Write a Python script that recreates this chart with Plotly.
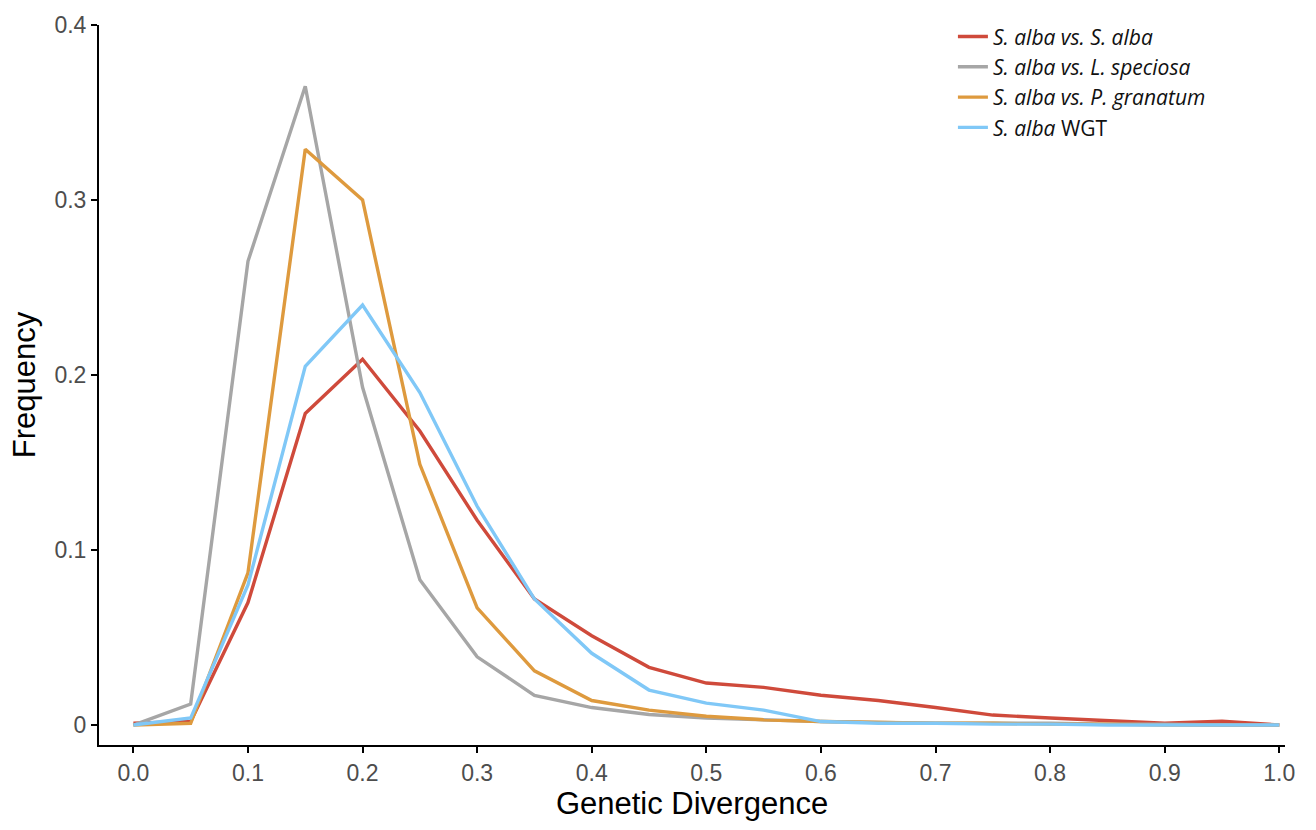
import plotly.graph_objects as go

divergence = [0.0, 0.05, 0.1, 0.15, 0.2, 0.25, 0.3, 0.35, 0.4, 0.45, 0.5,
              0.55, 0.6, 0.65, 0.7, 0.75, 0.8, 0.85, 0.9, 0.95, 1.0]

alba_alba = [0.001, 0.002, 0.070, 0.178, 0.209, 0.168, 0.117, 0.072, 0.051, 0.033, 0.024,
             0.0215, 0.017, 0.014, 0.010, 0.0057, 0.004, 0.0023, 0.001, 0.0022, 0.0]
alba_speciosa = [0.0, 0.012, 0.265, 0.365, 0.193, 0.083, 0.039, 0.017, 0.010, 0.006, 0.004,
                 0.003, 0.002, 0.0015, 0.001, 0.001, 0.001, 0.0005, 0.0005, 0.0, 0.0]
alba_granatum = [0.0, 0.001, 0.087, 0.329, 0.300, 0.149, 0.067, 0.031, 0.014, 0.0085, 0.005,
                 0.003, 0.002, 0.0015, 0.001, 0.001, 0.0005, 0.0005, 0.0, 0.0, 0.0]
alba_wgt = [0.0, 0.004, 0.080, 0.205, 0.240, 0.190, 0.125, 0.072, 0.041, 0.020, 0.0125,
            0.0085, 0.002, 0.001, 0.001, 0.0005, 0.0005, 0.0, 0.0, 0.0, 0.0]

series_names = ["<i>S. alba vs. S. alba</i>", "<i>S. alba vs. L. speciosa</i>",
                "<i>S. alba vs. P. granatum</i>", "<i>S. alba</i> WGT"]
series_values = [alba_alba, alba_speciosa, alba_granatum, alba_wgt]
series_colors = ["#CF4A3B", "#A6A6A6", "#DE9A3E", "#80C8F7"]

x_ticks = [0.0, 0.1, 0.2, 0.3, 0.4, 0.5, 0.6, 0.7, 0.8, 0.9, 1.0]
x_tick_labels = ["0.0", "0.1", "0.2", "0.3", "0.4", "0.5", "0.6", "0.7", "0.8", "0.9", "1.0"]
y_ticks = [0, 0.1, 0.2, 0.3, 0.4]
y_tick_labels = ["0", "0.1", "0.2", "0.3", "0.4"]

fig = go.Figure()
for name, vals, col in zip(series_names, series_values, series_colors):
    fig.add_trace(go.Scatter(x=divergence, y=vals, mode="lines", name=name,
                             line=dict(color=col, width=3.4)))

axis_font = dict(family="Liberation Sans, Arial, sans-serif", size=23, color="#4D4D4D")
title_font = dict(family="Liberation Sans, Arial, sans-serif", size=31, color="black")
fig.update_layout(
    width=1316, height=830,
    paper_bgcolor="white", plot_bgcolor="white",
    margin=dict(l=99, r=31, t=21, b=85),
    showlegend=True,
    legend=dict(x=0.72, y=1.012, xanchor="left", yanchor="top",
                font=dict(family="Open Sans, sans-serif", size=21, color="#111111"),
                bgcolor="rgba(0,0,0,0)", itemwidth=30, tracegroupgap=0),
    xaxis=dict(range=[-0.03, 1.005], tickvals=x_ticks, ticktext=x_tick_labels,
               showgrid=False, zeroline=False, showline=True, linecolor="black", linewidth=2,
               ticks="outside", ticklen=6, tickwidth=2, tickcolor="black",
               tickfont=axis_font,
               title=dict(text="Genetic Divergence", font=title_font, standoff=8)),
    yaxis=dict(range=[-0.0114, 0.4], tickvals=y_ticks, ticktext=y_tick_labels,
               showgrid=False, zeroline=False, showline=True, linecolor="black", linewidth=2,
               ticks="outside", ticklen=6, tickwidth=2, tickcolor="black",
               tickfont=axis_font,
               title=dict(text="Frequency", font=title_font, standoff=10)),
)

fig.write_html("out.html")
